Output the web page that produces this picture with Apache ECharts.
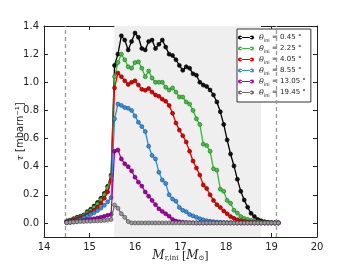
<!DOCTYPE html>
<html><head><meta charset="utf-8">
<script src="https://cdn.jsdelivr.net/npm/echarts@6/dist/echarts.min.js"></script>
<style>html,body{margin:0;padding:0;background:#fff}#c{width:352px;height:264px}</style>
</head><body><div id="c"></div><script>
const masses=[14.5,14.575,14.65,14.725,14.8,14.875,14.95,15.025,15.1,15.175,15.25,15.325,15.4,15.475,15.55,15.625,15.7,15.775,15.85,15.925,16.0,16.075,16.15,16.225,16.3,16.375,16.45,16.525,16.6,16.675,16.75,16.825,16.9,16.975,17.05,17.125,17.2,17.275,17.35,17.425,17.5,17.575,17.65,17.725,17.8,17.875,17.95,18.025,18.1,18.175,18.25,18.325,18.4,18.475,18.55,18.625,18.7,18.775,18.85,18.925,19.0,19.075,19.15];
const tau045=[0.015,0.02,0.03,0.04,0.048,0.057,0.08,0.097,0.12,0.145,0.175,0.21,0.26,0.34,
1.12,1.20,1.33,1.30,1.23,1.29,1.35,1.32,1.24,1.23,1.29,1.30,1.24,1.27,1.30,1.25,1.20,1.19,1.16,
1.12,1.085,1.11,1.10,1.06,1.05,1.00,0.98,0.97,0.945,0.91,0.86,0.79,0.70,0.59,0.49,0.405,0.31,0.225,0.163,0.112,0.068,0.045,0.025,0.015,0.009,0.005,0.002,0.001,0];
const tau225=[0.012,0.018,0.026,0.035,0.043,0.052,0.072,0.089,0.11,0.135,0.165,0.20,0.25,0.33,
1.04,1.14,1.20,1.16,1.11,1.10,1.14,1.145,1.10,1.04,1.08,1.03,1.0,1.0,1.0,
0.965,0.945,0.96,0.93,0.895,0.895,0.86,0.845,0.80,0.74,0.70,0.56,0.55,0.51,0.385,0.375,0.24,0.225,0.16,0.14,0.09,0.07,0.045,0.032,0.025,0.018,0.012,0.008,0.005,0.003,0.002,0.001,0,0];
const tau405=[0.008,0.013,0.02,0.028,0.035,0.043,0.058,0.072,0.09,0.112,0.14,0.175,0.22,0.30,
0.96,1.065,1.04,1.01,0.985,1.0,1.01,0.98,0.95,0.943,0.955,0.93,0.91,0.90,0.88,0.865,0.835,
0.78,0.71,0.66,0.62,0.575,0.51,0.44,0.39,0.34,0.27,0.245,0.20,0.16,0.13,0.11,0.085,0.065,0.045,0.033,0.022,0.015,0.01,0.007,0.005,0.003,0.002,0.001,0,0,0,0,0];
const tau855=[0.003,0.006,0.01,0.018,0.025,0.035,0.047,0.06,0.072,0.088,0.105,0.125,0.15,0.18,
0.74,0.845,0.835,0.82,0.815,0.80,0.76,0.715,0.685,0.65,
0.545,0.48,0.455,0.36,0.305,0.28,0.20,0.17,0.155,0.11,0.09,0.08,0.06,0.05,0.04,0.03,0.022,0.016,0.012,0.009,0.006,0.004,0.003,0.002,0.001,0.001,
0,0,0,0,0,0,0,0,0,0,0,0,0];
const tau1305=[0.002,0.005,0.008,0.012,0.015,0.018,0.022,0.026,0.03,0.035,0.04,0.047,0.054,0.06,
0.51,0.518,0.455,0.42,0.40,0.37,0.325,0.29,0.262,0.22,0.19,0.16,0.13,0.10,0.082,0.065,0.048,0.025,0.013,0.008,0.005,0.003,0.002,
0.001,0,0,0,0,0,0,0,0,0,0,0,0,0,0,0,0,0,0,0,0,0,0,0,0,0];
const tau1945=[0.002,0.004,0.006,0.008,0.01,0.01,0.012,0.012,0.014,0.015,0.016,0.018,0.02,0.025,
0.128,0.105,0.065,0.04,0.01,
0,0,0,0,0,0,0,0,0,0,0,0,0,0,0,0,0,0,0,0,0,0,0,0,0,0,0,0,0,0,0,0,0,0,0,0,0,0,0,0,0,0,0,0];
const angleLabels=['0.45','2.25','4.05','8.55','13.05','19.45'];
const xTicks=[14,15,16,17,18,19,20];
const yTicks=[0,0.2,0.4,0.6,0.8,1.0,1.2,1.4];
const shadeRange=[15.545,18.77];
const dashedAt=[14.455,19.11];

const seriesVals=[tau045,tau225,tau405,tau855,tau1305,tau1945];
const styles=[
 {line:'#000000',fill:'#111111',edge:'#000000'},
 {line:'#33bb33',fill:'#44c044',edge:'#1f6f1f'},
 {line:'#e80000',fill:'#e00000',edge:'#7a0000'},
 {line:'#2a8be6',fill:'#3a90e0',edge:'#1a4f80'},
 {line:'#b000b0',fill:'#a800a8',edge:'#580058'},
 {line:'#666666',fill:'#9a9a9a',edge:'#444444'}
];
const chart=echarts.init(document.getElementById('c'),null,{renderer:'canvas'});
const axisCol='#222';
const series=[{
  type:'line',data:[],xAxisIndex:0,yAxisIndex:0,z:1,silent:true,
  markArea:{silent:true,itemStyle:{color:'#efefef'},data:[[{xAxis:shadeRange[0]},{xAxis:shadeRange[1]}]]},
  markLine:{silent:true,symbol:'none',label:{show:false},lineStyle:{color:'#999',type:[4,3],width:1.3},
    data:dashedAt.map(v=>({xAxis:v}))}
}];
seriesVals.forEach((vals,i)=>{
  series.push({
    type:'line',name:angleLabels[i],xAxisIndex:0,yAxisIndex:0,z:3+i,
    data:masses.map((m,k)=>[m,vals[k]]),
    symbol:'circle',symbolSize:4,showSymbol:true,
    lineStyle:{color:styles[i].line,width:1.3},
    itemStyle:{color:styles[i].fill,borderColor:styles[i].edge,borderWidth:0.6},
    emphasis:{disabled:true}
  });
});
const iconPath='path://M0.5,3a2.5,2.5 0 1,0 5,0a2.5,2.5 0 1,0 -5,0Z M14.5,3a2.5,2.5 0 1,0 5,0a2.5,2.5 0 1,0 -5,0Z M3,2.3L17,2.3L17,3.7L3,3.7Z';
chart.setOption({
  animation:false,
  grid:{left:44,right:35,top:26,bottom:27,containLabel:false,outerBoundsMode:'none'},
  legend:{
    data:angleLabels.map((n,i)=>({name:n,itemStyle:{color:styles[i].line}})),
    orient:'vertical',left:237,top:29,
    backgroundColor:'#fff',borderColor:'#333',borderWidth:1,borderRadius:0,
    padding:[3,5,4,1],itemGap:0,itemWidth:16,itemHeight:5,icon:iconPath,
    itemStyle:{borderWidth:0},
    formatter:n=>'{t|θ}{s|ini}{n| = '+n+' °}',
    textStyle:{color:'#222',fontFamily:'DejaVu Sans',fontSize:7,lineHeight:11,
      rich:{t:{fontStyle:'italic',fontFamily:'DejaVu Serif',fontSize:8,lineHeight:11},
            s:{fontSize:5,fontFamily:'DejaVu Sans',lineHeight:11,verticalAlign:'bottom',padding:[0,0,0,0]},
            n:{fontSize:7,fontFamily:'DejaVu Sans',lineHeight:11}}}
  },
  xAxis:[{
    type:'value',min:14,max:20,interval:1,position:'bottom',
    axisLine:{show:true,onZero:false,lineStyle:{color:axisCol,width:1}},
    axisTick:{show:true,inside:true,length:4,lineStyle:{color:axisCol}},
    axisLabel:{color:axisCol,fontSize:10,fontFamily:'DejaVu Sans',margin:5},
    splitLine:{show:false},
    name:'{i|M}{s|r,ini} [{i|M}{s|⊙}]',nameLocation:'middle',nameGap:13,nameMoveOverlap:false,
    nameTextStyle:{color:axisCol,fontFamily:'DejaVu Serif',fontSize:11,
      rich:{i:{fontStyle:'italic',fontFamily:'DejaVu Serif',fontSize:12},
            s:{fontFamily:'DejaVu Serif',fontSize:7,verticalAlign:'bottom',padding:[5,0,0,0]}}}
  },{
    type:'value',min:14,max:20,interval:1,position:'top',
    axisLine:{show:true,onZero:false,lineStyle:{color:axisCol,width:1}},
    axisTick:{show:true,inside:true,length:4,lineStyle:{color:axisCol}},
    axisLabel:{show:false},splitLine:{show:false}
  }],
  yAxis:[{
    type:'value',min:-0.1,max:1.4,position:'left',
    axisLine:{show:true,onZero:false,lineStyle:{color:axisCol,width:1}},
    axisTick:{show:true,inside:true,length:4,customValues:yTicks,lineStyle:{color:axisCol}},
    axisLabel:{color:axisCol,fontSize:10,fontFamily:'DejaVu Sans',margin:5,customValues:yTicks,formatter:v=>v.toFixed(1)},
    splitLine:{show:false},
    name:'{i|τ} [mbarn⁻¹]',nameLocation:'middle',nameGap:19,nameMoveOverlap:false,
    nameTextStyle:{color:axisCol,fontFamily:'DejaVu Sans',fontSize:10,
      rich:{i:{fontStyle:'italic',fontFamily:'DejaVu Serif',fontSize:10}}}
  },{
    type:'value',min:-0.1,max:1.4,position:'right',
    axisLine:{show:true,onZero:false,lineStyle:{color:axisCol,width:1}},
    axisTick:{show:true,inside:true,length:4,customValues:yTicks,lineStyle:{color:axisCol}},
    axisLabel:{show:false,customValues:yTicks},splitLine:{show:false}
  }],
  series:series
});
</script></body></html>
